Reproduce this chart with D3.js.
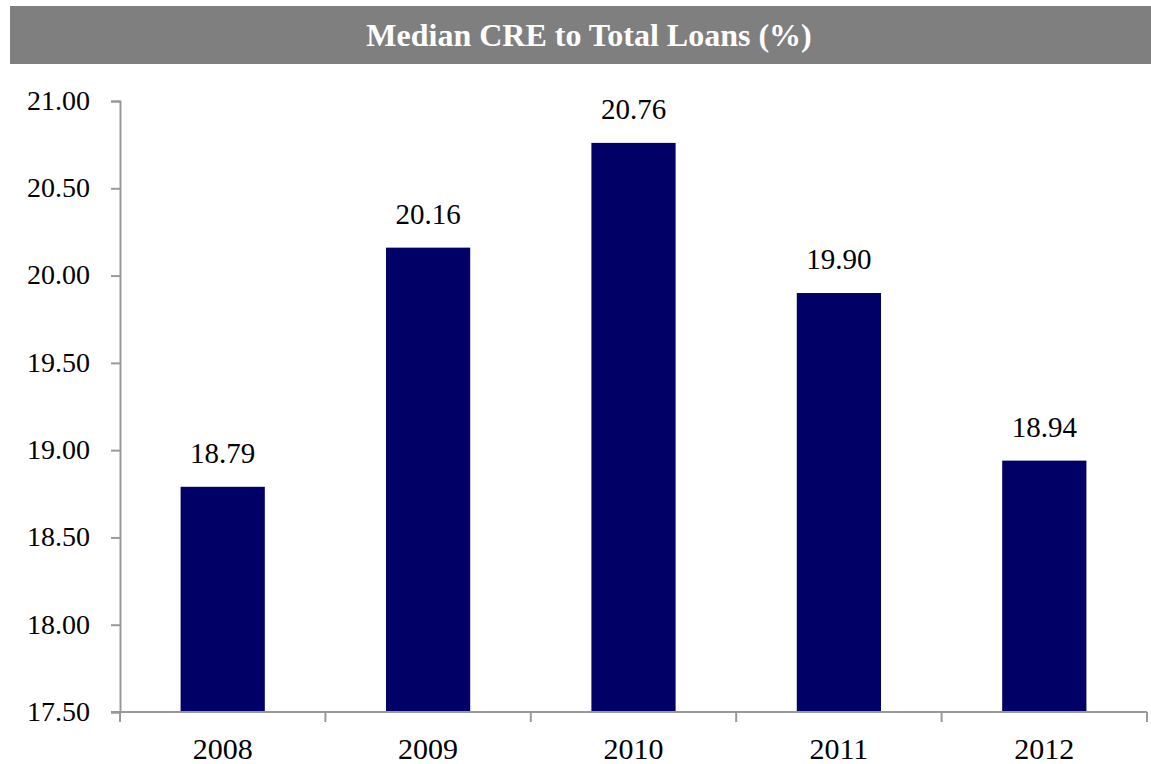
<!DOCTYPE html>
<html>
<head>
<meta charset="utf-8">
<script src="https://cdn.jsdelivr.net/npm/d3@7"></script>
<style>
  html, body { margin: 0; padding: 0; background: #fff; }
  svg { display: block; }
</style>
</head>
<body>
<svg id="chart" width="1151" height="764"></svg>
<script>
const categories = ["2008", "2009", "2010", "2011", "2012"];
const values = [18.79, 20.16, 20.76, 19.90, 18.94];
const yTicks = [17.5, 18.0, 18.5, 19.0, 19.5, 20.0, 20.5, 21.0];
const titleText = "Median CRE to Total Loans (%)";

(function () {
const svg = d3.select("#chart");
const W = 1151, H = 764;
const mLeft = 120, mRight = 1147, mTop = 101, mBottom = 712;
const font = "'Liberation Serif', 'DejaVu Serif', serif";

// title bar
svg.append("rect").attr("x", 10).attr("y", 6).attr("width", W - 10).attr("height", 58).attr("fill", "#7f7f7f");
svg.append("text").attr("x", 589).attr("y", 46).attr("text-anchor", "middle")
  .attr("fill", "#fff").attr("font-family", font).attr("font-weight", "bold").attr("font-size", 32)
  .text(titleText);

const x = d3.scaleBand().domain(categories).range([mLeft, mRight]).paddingInner(0.59).paddingOuter(0.295);
const xBoundary = d3.scaleLinear().domain([0, categories.length]).range([mLeft, mRight]);
const y = d3.scaleLinear().domain([17.5, 21]).range([mBottom, mTop]);

// bars
svg.append("g").selectAll("rect").data(values).join("rect")
  .attr("x", (d, i) => x(categories[i]))
  .attr("y", d => y(d))
  .attr("width", x.bandwidth())
  .attr("height", d => y(17.5) - y(d))
  .attr("fill", "#000066");

// value labels
svg.append("g").selectAll("text").data(values).join("text")
  .attr("x", (d, i) => x(categories[i]) + x.bandwidth() / 2)
  .attr("y", d => y(d) - 24)
  .attr("text-anchor", "middle")
  .attr("font-family", font).attr("font-size", 29).attr("fill", "#000")
  .text(d => d.toFixed(2));

// y axis
const yAxis = svg.append("g").attr("transform", `translate(${mLeft},0)`)
  .call(d3.axisLeft(y).tickValues(yTicks).tickFormat(d3.format(".2f")).tickSize(9).tickPadding(21));
yAxis.select(".domain").attr("stroke", "#999").attr("stroke-width", 2);
yAxis.selectAll(".tick line").attr("stroke", "#999").attr("stroke-width", 2);
yAxis.selectAll(".tick text").attr("font-family", font).attr("font-size", 28).attr("fill", "#000").attr("dy", "0.3em");

// x axis
const xAxisG = svg.append("g").attr("transform", `translate(0,${mBottom})`);
xAxisG.append("line").attr("x1", mLeft - 9).attr("x2", mRight).attr("y1", 0).attr("y2", 0)
  .attr("stroke", "#999").attr("stroke-width", 2);
xAxisG.selectAll("line.tk").data(d3.range(categories.length + 1)).join("line").attr("class", "tk")
  .attr("x1", d => xBoundary(d)).attr("x2", d => xBoundary(d))
  .attr("y1", 0).attr("y2", 10).attr("stroke", "#999").attr("stroke-width", 2);
xAxisG.selectAll("text").data(categories).join("text")
  .attr("x", d => x(d) + x.bandwidth() / 2).attr("y", 47)
  .attr("text-anchor", "middle").attr("font-family", font).attr("font-size", 30).attr("fill", "#000")
  .text(d => d);
})();
</script>
</body>
</html>
